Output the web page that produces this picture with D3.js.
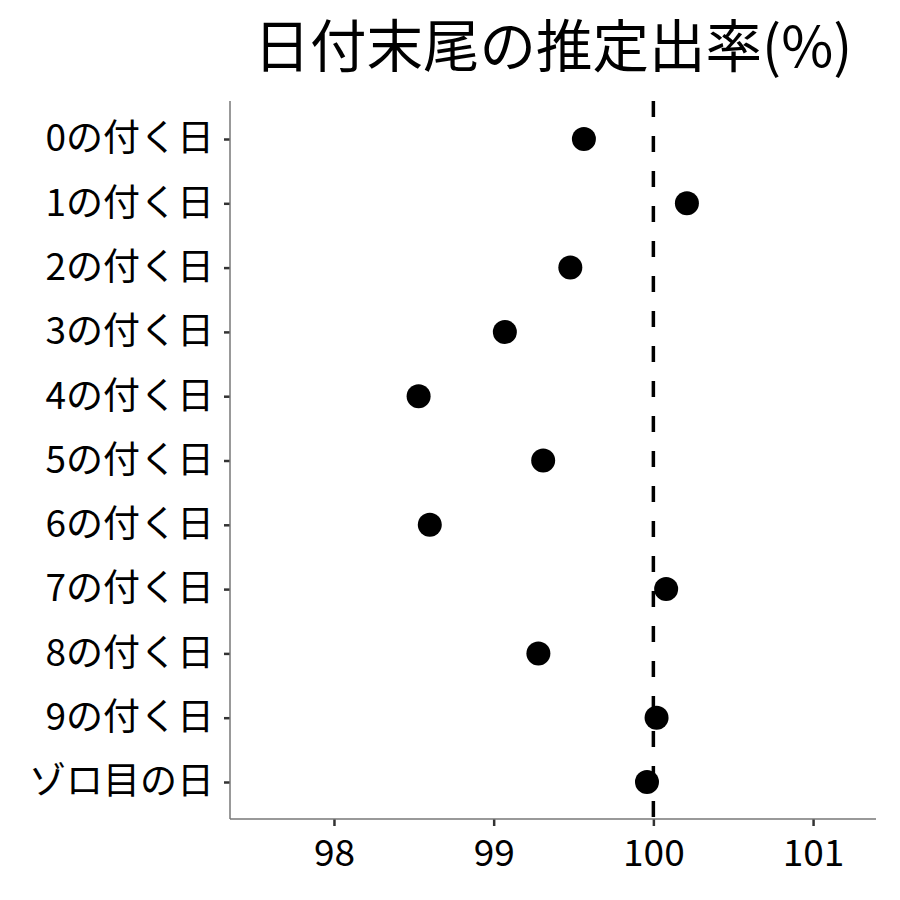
<!DOCTYPE html>
<html><head><meta charset="utf-8">
<script src="https://cdn.jsdelivr.net/npm/d3@7"></script>
<style>body{margin:0;background:#fff;} text{font-family:"Noto Sans CJK JP",sans-serif;}</style>
</head><body><svg id="c" width="900" height="900"></svg>
<script>
const categories = ["0の付く日","1の付く日","2の付く日","3の付く日","4の付く日","5の付く日","6の付く日","7の付く日","8の付く日","9の付く日","ゾロ目の日"];
const values = [99.565, 100.21, 99.48, 99.07, 98.53, 99.31, 98.60, 100.08, 99.28, 100.02, 99.96];
const xTicks = [98, 99, 100, 101];
const refValue = 100;
const title = "日付末尾の推定出率(%)";

const svg = d3.select("#c");
const L = 230, R = 876, T = 101, B = 819;
const x = d3.scaleLinear().domain([97.349, 101.394]).range([L, R]);
const y = d3.scalePoint().domain(categories).range([139, 782]);

svg.append("rect").attr("width",900).attr("height",900).attr("fill","#fff");

// axes
const gx = svg.append("g").attr("transform",`translate(0,${B})`)
  .call(d3.axisBottom(x).tickValues(xTicks).tickSize(7).tickPadding(14).tickFormat(d3.format("d")));
const gy = svg.append("g").attr("transform",`translate(${L},0)`)
  .call(d3.axisLeft(y).tickSize(6).tickPadding(10));
[gx, gy].forEach(g => {
  g.select(".domain").remove();
  g.selectAll(".tick line").attr("stroke","#333").attr("stroke-width",2.5);
  g.selectAll(".tick text").attr("fill","#000").style("font-size","37px");
});
svg.append("line").attr("x1",L).attr("x2",R).attr("y1",B).attr("y2",B).attr("stroke","#777").attr("stroke-width",1.5);
svg.append("line").attr("x1",L).attr("x2",L).attr("y1",T).attr("y2",B).attr("stroke","#777").attr("stroke-width",1.5);

// reference line
svg.append("line").attr("x1",x(refValue)).attr("x2",x(refValue)).attr("y1",T).attr("y2",B)
  .attr("stroke","#000").attr("stroke-width",3.5).attr("stroke-dasharray","16,19");

// points
svg.append("g").selectAll("circle").data(values).join("circle")
  .attr("cx", d => x(d)).attr("cy", (d,i) => y(categories[i])).attr("r", 12).attr("fill","#000");

svg.append("text").attr("x",(L+R)/2).attr("y",67).attr("text-anchor","middle")
  .style("font-size","56.5px").attr("fill","#000").text(title);
</script></body></html>
